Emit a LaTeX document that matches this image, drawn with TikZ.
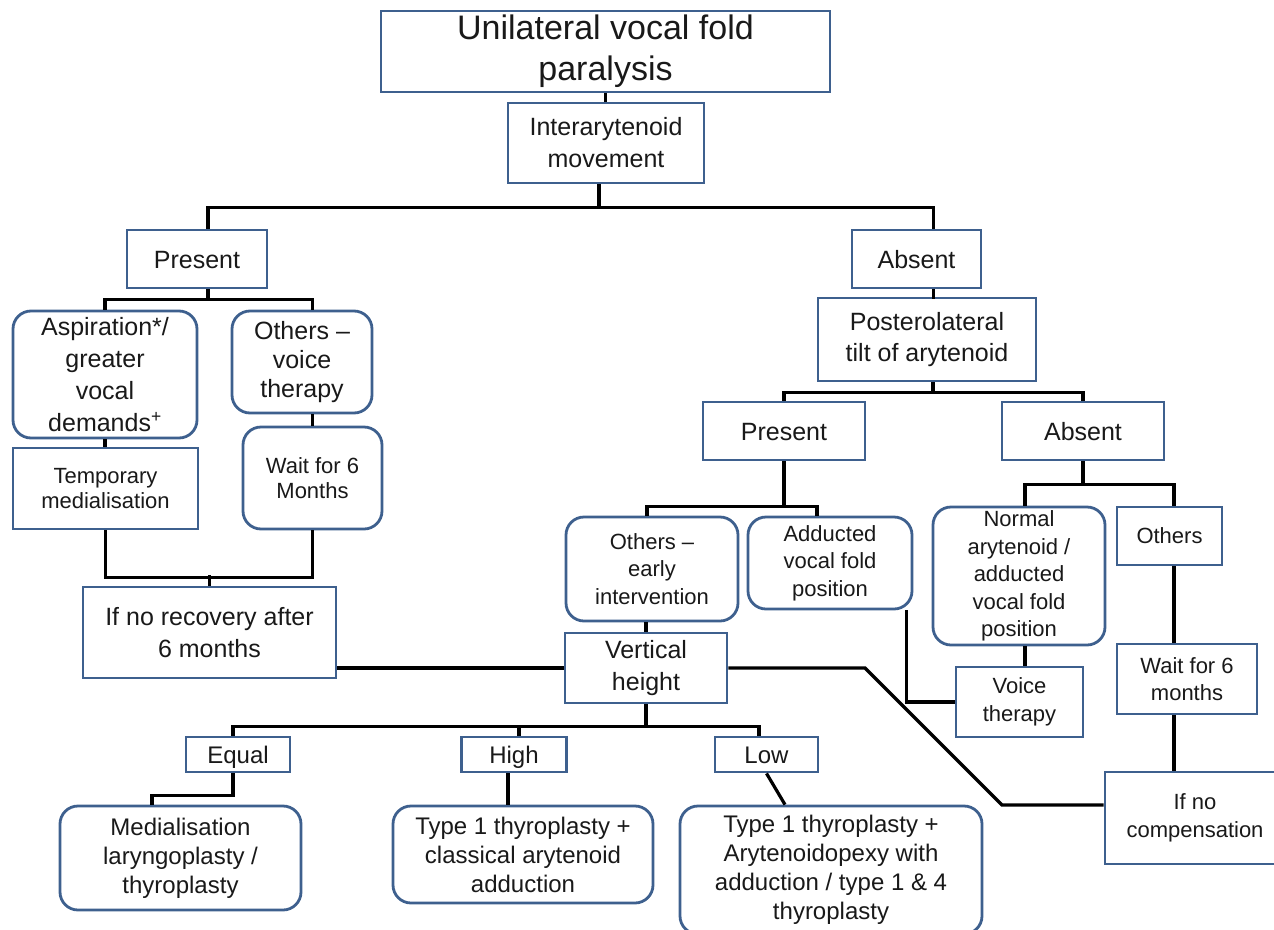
\documentclass[tikz,border=0pt]{standalone}
\usepackage{fontspec}
\setmainfont{Liberation Sans}
\definecolor{boxblue}{RGB}{62,96,142}
\definecolor{txtcol}{RGB}{25,25,25}
\tikzset{
	box/.style={draw=boxblue,line width=2.8pt,fill=white,align=center,inner sep=0pt,text=txtcol},
	rbox/.style={box,rounded corners=18pt},
	one/.style={text height=#1,text depth=0pt},
	link/.style={line width=3.2pt,black},
	ftitle/.style={font=\fontsize{34}{41}\selectfont},
	fmid/.style={font=\fontsize{25}{32}\selectfont},
	fsml/.style={font=\fontsize{22}{27.5}\selectfont},
	fbot/.style={font=\fontsize{24}{29}\selectfont}
}
\begin{document}
\begin{tikzpicture}[x=1pt,y=-1pt]
	\useasboundingbox (0,0) rectangle (1274,929);
	
	% top of the tree
	\node[box,ftitle,minimum width=449,minimum height=81] (title) at (605.5,51.5) {Unilateral vocal fold\\paralysis};
	\node[box,fmid,minimum width=196,minimum height=80] (inter) at (606,143) {Interarytenoid\\movement};
	\node[box,fmid,one=18pt,minimum width=140,minimum height=58] (presA) at (197,259) {Present};
	\node[box,fmid,one=18pt,minimum width=129,minimum height=58] (absA) at (916.5,259) {Absent};
	
	% left branch
	\node[rbox,fmid,minimum width=184,minimum height=127] (asp) at (105,374.5) {Aspiration*/\\greater\\vocal\\demands\textsuperscript{+}};
	\node[rbox,font=\fontsize{25}{29}\selectfont,minimum width=140,minimum height=102] (othv) at (302,362) {Others --\\voice\\therapy};
	\node[box,font=\fontsize{22}{25}\selectfont,minimum width=185,minimum height=81] (temp) at (105.5,488.5) {Temporary\\medialisation};
	\node[rbox,font=\fontsize{22}{25}\selectfont,minimum width=139,minimum height=102] (waitA) at (312.5,478) {Wait for 6\\Months};
	\node[box,fmid,minimum width=253,minimum height=91] (recov) at (209.5,632.5) {If no recovery after\\6 months};
	
	% right branch
	\node[box,font=\fontsize{25}{31}\selectfont,minimum width=218,minimum height=83] (post) at (927,339.5) {Posterolateral\\tilt of arytenoid};
	\node[box,fmid,one=18pt,minimum width=162,minimum height=58] (presB) at (784,431) {Present};
	\node[box,fmid,one=18pt,minimum width=162,minimum height=58] (absB) at (1083,431) {Absent};
	\node[rbox,fsml,minimum width=172,minimum height=104] (othe) at (652,569) {Others --\\early\\intervention};
	\node[rbox,fsml,minimum width=164,minimum height=92] (addu) at (830,563) {Adducted\\vocal fold\\position};
	\node[rbox,fsml,minimum width=172,minimum height=138] (norm) at (1019,576) {Normal\\arytenoid /\\adducted\\vocal fold\\position};
	\node[box,fsml,one=15.8pt,minimum width=105,minimum height=58] (othr) at (1169.5,536) {Others};
	\node[box,fmid,minimum width=162,minimum height=70] (vh) at (646,668) {Vertical\\height};
	\node[box,fsml,minimum width=127,minimum height=70] (voice) at (1019.5,702) {Voice\\therapy};
	\node[box,fsml,minimum width=140,minimum height=70] (waitB) at (1187,679) {Wait for 6\\months};
	\node[box,fsml,minimum width=180,minimum height=92] (nocomp) at (1195,818) {If no\\compensation};
	
	% vertical height outcomes
	\node[box,fbot,one=17.2pt,minimum width=104,minimum height=35] (equal) at (238,754.5) {Equal};
	\node[box,fbot,one=17.2pt,minimum width=105,minimum height=35] (high) at (514,754.5) {High};
	\node[box,fbot,one=17.2pt,minimum width=103,minimum height=35] (low) at (766.5,754.5) {Low};
	\node[rbox,fbot,minimum width=241,minimum height=104] (medi) at (180.5,858) {Medialisation\\laryngoplasty /\\thyroplasty};
	\node[rbox,fbot,minimum width=260,minimum height=97] (typI) at (523,854.5) {Type 1 thyroplasty +\\classical arytenoid\\adduction};
	\node[rbox,fbot,minimum width=302,minimum height=128] (typIV) at (831,870) {Type 1 thyroplasty +\\Arytenoidopexy with\\adduction / type 1 \& 4\\thyroplasty};
	
	% connectors
	\draw[link] (title.south) -- (title.south |- inter.north);
	\draw[link] ([xshift=-7]inter.south) -- ++(0,23) -| ([xshift=11]presA.north);
	\draw[link] ([xshift=-7]inter.south) -- ++(0,23) -| ([xshift=17]absA.north);
	
	\draw[link] ([xshift=11]presA.south) -- ++(0,10) -| (asp.north);
	\draw[link] ([xshift=11]presA.south) -- ++(0,10) -| (waitA.north |- othv.north);
	\draw[link] (asp.south) -- (asp.south |- temp.north);
	\draw[link] (waitA.north |- othv.south) -- (waitA.north);
	\draw[link] (temp.south) -- ++(0,47) -| (waitA.south);
	\draw[link] (recov.north) -- ++(0,-11);
	\draw[link] (recov.east |- vh.west) -- (vh.west);
	
	\draw[link] ([xshift=17]absA.south) -- ++(0,10);
	\draw[link] ([xshift=6]post.south) -- ++(0,10) -| (presB.north);
	\draw[link] ([xshift=6]post.south) -- ++(0,10) -| (absB.north);
	\draw[link] (presB.south) -- ++(0,45) -| ([xshift=-5]othe.north);
	\draw[link] (presB.south) -- ++(0,45) -| ([xshift=-13]addu.north);
	\draw[link] (vh.north |- othe.south) -- (vh.north);
	\draw[link] ([xshift=-7]addu.south east) |- (voice.west);
	\draw[link] (absB.south) -- ++(0,23) -| ([xshift=6]norm.north);
	\draw[link] (absB.south) -- ++(0,23) -| ([xshift=4.5]othr.north);
	\draw[link] ([xshift=6]norm.south) -- ([xshift=6]norm.south |- voice.north);
	\draw[link] ([xshift=4.5]othr.south) -- ([xshift=4.5]othr.south |- waitB.north);
	\draw[link] ([xshift=4.5]othr.south |- waitB.south) -- ([xshift=4.5]othr.south |- nocomp.north);
	
	\coordinate (k1) at (865,668);
	\coordinate (k2) at (1002,805);
	\draw[link] (vh.east) -- (k1) -- (k2) -- (k2 -| nocomp.west);
	
	\draw[link] (vh.south) -- ++(0,22) -| ([xshift=-5]equal.north);
	\draw[link] (vh.south) -- ++(0,22) -| ([xshift=5]high.north);
	\draw[link] (vh.south) -- ++(0,22) -| ([xshift=-7.5]low.north);
	\draw[link] ([xshift=-5]equal.south) -- ++(0,22) -| ([xshift=-28.5]medi.north);
	\draw[link] ([xshift=-6]high.south) -- ([xshift=-6]high.south |- typI.north);
	\draw[link] (low.south) -- ([xshift=-46]typIV.north);
	
\end{tikzpicture}
\end{document}
